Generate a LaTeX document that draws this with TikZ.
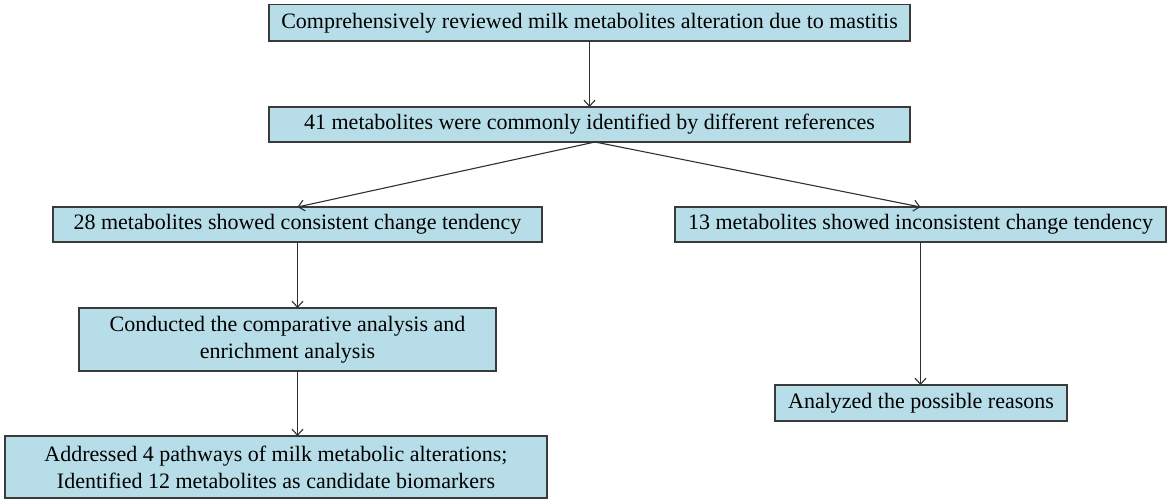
\documentclass[tikz,border=0pt]{standalone}
\usepackage{fontspec}
\setmainfont{Liberation Serif}
\usetikzlibrary{arrows.meta,calc}
\definecolor{boxfill}{HTML}{B7DEE8}
\definecolor{boxline}{HTML}{3A3A3A}
\definecolor{arrline}{HTML}{303030}
\begin{document}
\begin{tikzpicture}[x=1pt,y=-1pt,
  flowbox/.style={draw=boxline, fill=boxfill, line width=1.3pt, rectangle,
    inner sep=0pt, outer sep=0pt, align=center,
    font=\fontsize{22}{27}\selectfont},
  arr/.style={draw=arrline, line width=1.1pt, -{Straight Barb[length=6pt,width=11pt,line width=1.1pt]}}]
\useasboundingbox (0,0) rectangle (1170,503);
\node[flowbox, minimum width=641pt, minimum height=36.5pt] (top) at (589.5,22.75)
  {Comprehensively reviewed milk metabolites alteration due to mastitis};
\node[flowbox, minimum width=641pt, minimum height=35pt] (b2) at (589.5,124.5)
  {41 metabolites were commonly identified by different references};
\node[flowbox, minimum width=489pt, minimum height=35pt] (b3) at (297.5,224.5)
  {28 metabolites showed consistent change tendency};
\node[flowbox, minimum width=491pt, minimum height=35pt] (b6) at (920.5,224.5)
  {13 metabolites showed inconsistent change tendency};
\node[flowbox, minimum width=417pt, minimum height=63pt] (b4) at (287.5,339.5)
  {Conducted the comparative analysis and\\enrichment analysis};
\node[flowbox, minimum width=542pt, minimum height=62pt] (b5) at (276,467)
  {Addressed 4 pathways of milk metabolic alterations;\\Identified 12 metabolites as candidate biomarkers};
\node[flowbox, minimum width=292pt, minimum height=36pt] (b7) at (921,403)
  {Analyzed the possible reasons};
\coordinate (apex) at ($(b2.south)+(5.5,0)$);
\draw[arr] (top.south) -- (b2.north);
\draw[arr] (apex) -- (b3.north);
\draw[arr] (apex) -- (b6.north);
\draw[arr] (b3.south) -- (b3.south |- b4.north);
\draw[arr] (b4.south -| b3.south) -- (b5.north -| b3.south);
\draw[arr] (b6.south) -- (b6.south |- b7.north);
\end{tikzpicture}
\end{document}
